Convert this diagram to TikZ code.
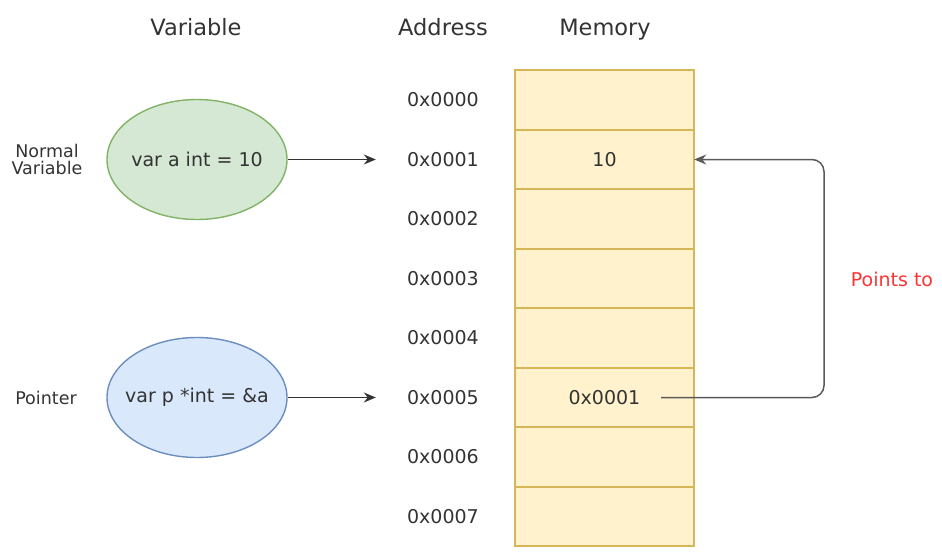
\documentclass[tikz,border=0pt]{standalone}
\usepackage{fontspec}
\setmainfont{DejaVu Sans}
\usetikzlibrary{arrows.meta,shapes.geometric}
\definecolor{gfill}{HTML}{D5E8D4}
\definecolor{gline}{HTML}{82B366}
\definecolor{bfill}{HTML}{DAE8FC}
\definecolor{bline}{HTML}{6C8EBF}
\definecolor{yfill}{HTML}{FFF2CC}
\definecolor{yline}{HTML}{D6B656}
\definecolor{txt}{HTML}{333333}
\definecolor{redtxt}{HTML}{FF3333}
\definecolor{conn}{HTML}{5A5A5A}
\tikzset{
  x=1pt,y=-1pt,
  every node/.style={text=txt,font=\fontsize{19}{22}\selectfont},
  header/.style={anchor=base,font=\fontsize{22.5}{26}\selectfont},
  cell/.style={fill=yfill,minimum width=179pt,inner sep=0pt},
  cellborder/.style={draw=yline,line width=2pt},
  addr/.style={minimum width=134pt,inner sep=0pt},
  var/.style={ellipse,line width=1.4pt,minimum width=180pt,minimum height=120pt,inner sep=0pt},
  arr/.style={draw=txt,line width=1.5pt,-{Stealth[length=12pt,width=10pt]}},
  side/.style={align=center,font=\fontsize{17.5}{20}\selectfont},
}
\begin{document}
\begin{tikzpicture}
\useasboundingbox (0,0) rectangle (942,554);
\node[header] (hv) at (196,35) {Variable};
\node[header] (ha) at (443,35) {Address};
\node[header] (hm) at (605,35) {Memory};
\foreach \i/\t in {0/,1/10,2/,3/,4/,5/0x0001,6/,7/}{
  \pgfmathsetmacro\ctop{round(70+59.5*\i)}
  \pgfmathsetmacro\cbot{round(70+59.5*(\i+1))}
  \pgfmathsetmacro\cmid{(\ctop+\cbot)/2}
  \pgfmathsetmacro\chgt{\cbot-\ctop}
  \node[cell,minimum height=\chgt pt] (m\i) at (604.5,\cmid) {\t};
  \node[addr] (a\i) at (443,\cmid) {0x000\i};
}
\foreach \i in {0,...,7}{
  \draw[cellborder] (m\i.north west) rectangle (m\i.south east);
}
\node[var,draw=gline,fill=gfill] (va) at (197,159.5) {\makebox[0pt]{var a int = 10}};
\node[var,draw=bline,fill=bfill] (vp) at (197,397.5) {\makebox[0pt]{var p *int = \&a}};
\node[side] (ln) at (47,159) {Normal\\[-3pt]Variable};
\node[side] (lp) at (46,398) {Pointer};
\node[text=redtxt] (pt) at (892,279) {Points to};
\draw[arr] (va.east) -- (va.east -| a1.west);
\draw[arr] (vp.east) -- (vp.east -| a5.west);
\coordinate (ps) at ([xshift=56.5pt]m5.center);
\draw[draw=conn,line width=1.5pt,rounded corners=12pt,-{Stealth[length=12pt,width=10pt]}]
  (ps) -- ++(163,0) |- (m1.east);
\end{tikzpicture}
\end{document}
